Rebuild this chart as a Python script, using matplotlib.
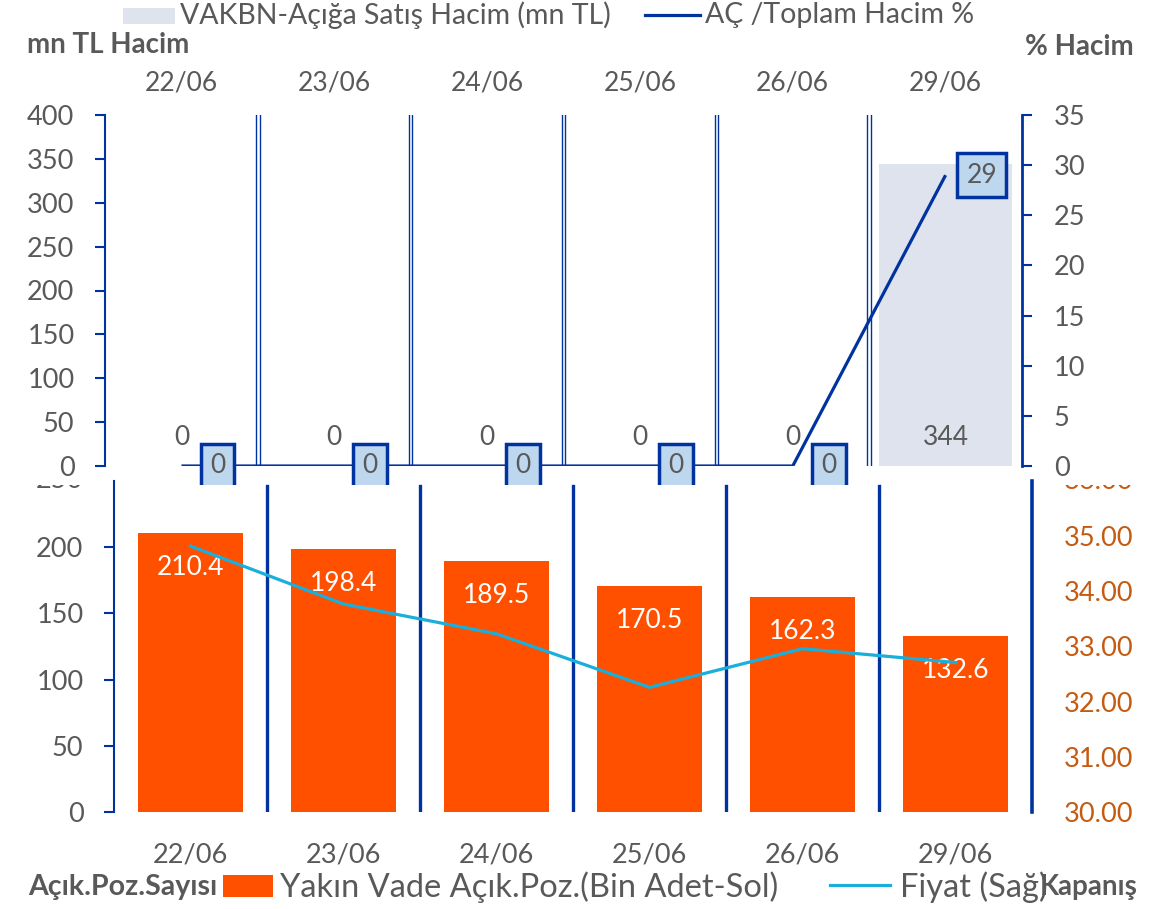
import matplotlib
matplotlib.use('Agg')
from matplotlib import pyplot as plt
from matplotlib.patches import Rectangle
from matplotlib.lines import Line2D
from matplotlib.transforms import Bbox, TransformedBbox, blended_transform_factory

# data
dates = ['22/06', '23/06', '24/06', '25/06', '26/06', '29/06']
short_vol = [0, 0, 0, 0, 0, 344]          # mn TL
short_pct = [0, 0, 0, 0, 0, 29]           # % of total volume
open_pos = [210.4, 198.4, 189.5, 170.5, 162.3, 132.6]   # bin adet
price = [34.82, 33.77, 33.23, 32.26, 32.96, 32.71]

W, H = 1174, 909
GRAY = '#595959'
BLUE = '#0033A0'
ORANGE = '#FF5000'
CYAN = '#1AAEDB'
BROWN = '#C55A11'
plt.rcParams['font.family'] = ['Lato', 'DejaVu Sans']

def box(l, t, r, b):
	# pixel box (from top-left) -> figure fraction rect
	return [l / W, 1 - b / H, (r - l) / W, (b - t) / H]

fig = plt.figure(figsize=(W / 100, H / 100), dpi=100)
x = list(range(len(dates)))

### top chart - short selling volume
ax1 = fig.add_axes(box(105, 115, 1022, 466))
ax1.set_zorder(1)
ax1.patch.set_visible(False)
ax1.bar(x, short_vol, width=0.87, color='#DFE3EE', zorder=1)
ax1.set_xlim(-0.5, 5.5)
ax1.set_ylim(0, 400)
ax1.set_yticks(range(0, 401, 50))
ax1.set_xticks(x)
ax1.set_xticklabels(dates)
ax1.xaxis.tick_top()
ax1.tick_params(axis='x', length=0, pad=14, labelsize=19, labelcolor=GRAY)
ax1.tick_params(axis='y', direction='out', length=7, width=1.5, color=BLUE, pad=15, labelsize=19.5, labelcolor=GRAY)
for s in ['top', 'bottom', 'right']:
	ax1.spines[s].set_visible(False)
ax1.spines['left'].set_color(BLUE)
ax1.spines['left'].set_linewidth(1.5)
for b in [0.5, 1.5, 2.5, 3.5, 4.5]:
	ax1.axvline(b - 0.011, color=BLUE, lw=1.0)
	ax1.axvline(b + 0.011, color=BLUE, lw=1.0)
for i, v in enumerate(short_vol):
	ax1.annotate(str(v), (i, 0), xytext=(0, 28), textcoords='offset pixels',
		ha='center', va='center', fontsize=19, color=GRAY, annotation_clip=False)

ax1r = ax1.twinx()
ax1r.set_zorder(1.1)
ax1r.plot(x, short_pct, color=BLUE, lw=2.3, solid_capstyle='butt')
ax1r.set_ylim(0, 35)
ax1r.set_yticks(range(0, 36, 5))
ax1r.tick_params(axis='y', direction='out', length=7, width=1.5, color=BLUE, pad=16, labelsize=19.5, labelcolor=GRAY)
for s in ['top', 'bottom', 'left']:
	ax1r.spines[s].set_visible(False)
ax1r.spines['right'].set_color(BLUE)
ax1r.spines['right'].set_linewidth(2.0)
for i, p in enumerate(short_pct):
	ax1r.annotate(str(p), (i, p), xytext=(36, 0), textcoords='offset pixels',
		ha='center', va='center', fontsize=19, color=GRAY, annotation_clip=False,
		bbox=dict(boxstyle='square,pad=0.35', fc='#BDD7EE', ec=BLUE, lw=2.5))

# bottom chart sits over the top one
fig.patches.append(Rectangle((0, 0), 1, 1 - 485 / H, transform=fig.transFigure,
	facecolor='white', edgecolor='none', zorder=2))

### bottom chart - open position and price
ax2 = fig.add_axes(box(114, 481, 1032, 812))
ax2.set_zorder(3)
ax2.patch.set_visible(False)
ax2.bar(x, open_pos, width=0.68, color=ORANGE, zorder=1)
ax2.set_xlim(-0.5, 5.5)
ax2.set_ylim(0, 250)
ax2.set_yticks(range(0, 201, 50))
ax2.set_xticks(x)
ax2.set_xticklabels(dates)
ax2.tick_params(axis='x', length=0, pad=22, labelsize=19.5, labelcolor=GRAY)
ax2.tick_params(axis='y', direction='out', length=7, width=1.5, color=BLUE, pad=15, labelsize=19.5, labelcolor=GRAY)
for s in ['top', 'bottom', 'right']:
	ax2.spines[s].set_visible(False)
ax2.spines['left'].set_color(BLUE)
ax2.spines['left'].set_linewidth(1.5)
for b in [0.5, 1.5, 2.5, 3.5, 4.5]:
	ax2.axvline(b, ymax=0.985, color=BLUE, lw=2.4, zorder=3)
for i, v in enumerate(open_pos):
	ax2.annotate(f'{v:.1f}', (i, v), xytext=(0, -34), textcoords='offset pixels',
		ha='center', va='center', fontsize=19, color='white')

ax2r = ax2.twinx()
ax2r.set_zorder(3.1)
ax2r.plot(x, price, color=CYAN, lw=2.3)
ax2r.set_ylim(30, 36)
ax2r.set_yticks([30, 31, 32, 33, 34, 35])
ax2r.set_yticklabels([f'{t:.2f}' for t in [30, 31, 32, 33, 34, 35]])
ax2r.tick_params(axis='y', length=0, pad=23, labelsize=19.5, labelcolor=BROWN)
for s in ['top', 'bottom', 'left']:
	ax2r.spines[s].set_visible(False)
ax2r.spines['right'].set_color(BLUE)
ax2r.spines['right'].set_linewidth(2.6)

# top tick labels of the bottom chart are cut by the chart edge
clip = TransformedBbox(Bbox.from_extents(0, 0, 1, 1 - 485 / H), fig.transFigure)
t = ax2.text(-31 / (1032 - 114), 250, '250', transform=blended_transform_factory(ax2.transAxes, ax2.transData),
	ha='right', va='center', fontsize=19.5, color=GRAY)
t.set_clip_box(clip)
t.set_clip_on(True)
t = ax2r.text(1 + 32 / (1032 - 114), 36, '36.00', transform=blended_transform_factory(ax2r.transAxes, ax2r.transData),
	ha='left', va='center', fontsize=19.5, color=BROWN)
t.set_clip_box(clip)
t.set_clip_on(True)

### axis titles and legends
fig.text(27 / W, 1 - 45 / H, 'mn TL Hacim', fontsize=20, fontweight='bold', color=GRAY, va='center')
fig.text(1025 / W, 1 - 47 / H, '% Hacim', fontsize=20, fontweight='bold', color=GRAY, va='center')

fig.patches.append(Rectangle((123 / W, 1 - 24 / H), 52 / W, 16 / H, transform=fig.transFigure,
	facecolor='#DFE3EE', edgecolor='none', zorder=5))
fig.text(180 / W, 1 - 15 / H, 'VAKBN-Açığa Satış Hacim (mn TL)', fontsize=20.5, color=GRAY, va='center')
fig.lines.append(Line2D([645 / W, 700 / W], [1 - 15 / H, 1 - 15 / H], transform=fig.transFigure,
	color=BLUE, lw=2.3, zorder=5))
fig.text(705 / W, 1 - 15 / H, 'AÇ /Toplam Hacim %', fontsize=20.5, color=GRAY, va='center')

fig.text(28 / W, 1 - 887 / H, 'Açık.Poz.Sayısı', fontsize=20.5, fontweight='bold', color=GRAY, va='center')
fig.patches.append(Rectangle((223 / W, 1 - 897 / H), 50 / W, 22 / H, transform=fig.transFigure,
	facecolor=ORANGE, edgecolor='none', zorder=5))
fig.text(280 / W, 1 - 887 / H, 'Yakın Vade Açık.Poz.(Bin Adet-Sol)', fontsize=23.5, color=GRAY, va='center')
fig.lines.append(Line2D([830 / W, 890 / W], [1 - 885 / H, 1 - 885 / H], transform=fig.transFigure,
	color=CYAN, lw=2.3, zorder=5))
fig.text(900 / W, 1 - 887 / H, 'Fiyat (Sağ)', fontsize=23.5, color=GRAY, va='center', zorder=5)
fig.text(1040 / W, 1 - 887 / H, 'Kapanış', fontsize=20, fontweight='bold', color=GRAY, va='center', zorder=6)

plt.savefig('out.png', dpi=100)
